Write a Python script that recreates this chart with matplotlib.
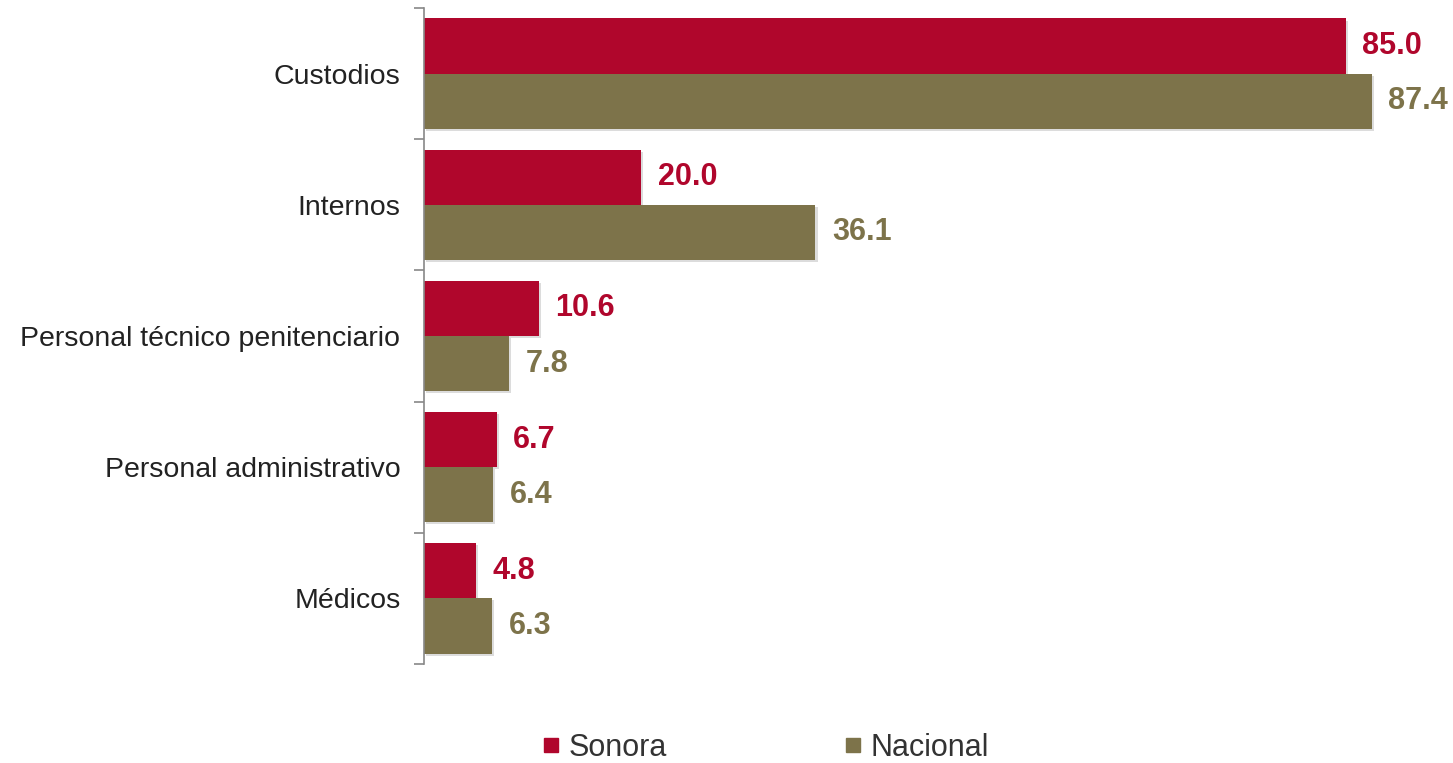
import matplotlib.pyplot as plt
import matplotlib.patheffects as pe
from matplotlib.lines import Line2D
import numpy as np

plt.rcParams["font.family"] = ["Liberation Sans", "DejaVu Sans"]

categories = ["Custodios", "Internos", "Personal técnico penitenciario",
              "Personal administrativo", "Médicos"]
sonora = [85.0, 20.0, 10.6, 6.7, 4.8]
nacional = [87.4, 36.1, 7.8, 6.4, 6.3]

red = "#B0062C"
olive = "#7D734A"

fig = plt.figure(figsize=(14.53, 7.63), dpi=100)
ax = fig.add_axes([424 / 1453, 1 - 664 / 763, (1400 - 424) / 1453, (664 - 8) / 763])

y = np.arange(len(categories))
h = 0.42
shadow = [pe.SimplePatchShadow(offset=(1.5, -1.5), shadow_rgbFace="#bbbbbb", alpha=0.5), pe.Normal()]
b1 = ax.barh(y - h / 2, sonora, height=h, color=red, path_effects=shadow)
b2 = ax.barh(y + h / 2, nacional, height=h, color=olive, path_effects=shadow)

for bars, vals, col in [(b1, sonora, red), (b2, nacional, olive)]:
    for bar, v in zip(bars, vals):
        ax.annotate(f"{v:.1f}", (v, bar.get_y() + bar.get_height() / 2),
                    xytext=(12, 0), textcoords="offset points",
                    va="center", ha="left", fontsize=22, fontweight="bold", color=col)

ax.set_xlim(0, 90)
ax.set_ylim(len(categories) - 0.5, -0.5)
ax.set_yticks(y)
ax.set_yticklabels(categories, fontsize=20.5, color="#222222")
ax.tick_params(axis="y", which="major", length=0, pad=17)
ax.set_yticks(np.arange(-0.5, len(categories)), minor=True)
ax.tick_params(axis="y", which="minor", length=7, color="#888888", width=1.2)
ax.set_xticks([])
for s in ["top", "right", "bottom"]:
    ax.spines[s].set_visible(False)
ax.spines["left"].set_color("#888888")
ax.spines["left"].set_linewidth(1.2)

handles = [Line2D([], [], marker="s", linestyle="none", color=red, markersize=10),
           Line2D([], [], marker="s", linestyle="none", color=olive, markersize=10)]
fig.legend(handles, ["Sonora", "Nacional"], loc="center", bbox_to_anchor=(766 / 1453, 1 - 748 / 763),
           ncol=2, frameon=False, fontsize=22, columnspacing=5.8, handlelength=0.55,
           handletextpad=0.3, labelcolor="#333333")

fig.savefig("out.png", dpi=100)
